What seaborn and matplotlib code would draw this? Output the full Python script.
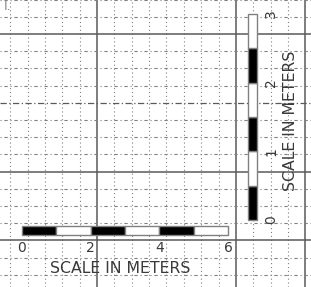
"""Scale bars (horizontal and vertical) drawn over a dotted drafting grid."""

import matplotlib
matplotlib.use("Agg")
import matplotlib.pyplot as plt
import numpy as np
import seaborn as sns

# horizontal scale: 6 segments of 1 m
h_starts = [0, 1, 2, 3, 4, 5]
h_widths = [1, 1, 1, 1, 1, 1]
h_ticks = [0, 2, 4, 6]
h_tick_labels = ["0", "2", "4", "6"]

# vertical scale: 6 segments of 0.5 m
v_starts = [0, 0.5, 1, 1.5, 2, 2.5]
v_heights = [0.5, 0.5, 0.5, 0.5, 0.5, 0.5]
v_ticks = [0, 1, 2, 3]
v_tick_labels = ["0", "1", "2", "3"]

seg_colors = ["black", "white", "black", "white", "black", "white"]
axis_label = "SCALE IN METERS"

# drafting grid, in cell units
grid_cols = list(range(0, 18))
grid_rows = list(range(0, 17))
solid_cols = [5, 13, 17]
solid_rows = [2, 10, 14]
dashdot_rows = [6]

sns.set_theme(style="white")
plt.rcParams["font.family"] = ["DejaVu Sans"]

W, H = 311, 287
fig = plt.figure(figsize=(W / 100, H / 100), dpi=100)
fig.patch.set_facecolor("white")

# background grid axes (cell units)
bg = fig.add_axes([0, 0, 1, 1])
bg.set_xlim(-10.3 / 17.35, (W - 10.3) / 17.35)
bg.set_ylim((H + 0.4) / 17.2, 0.4 / 17.2)
bg.axis("off")
for c in grid_cols:
    if c in solid_cols:
        bg.axvline(c, color="#5a5a5a", lw=1.1)
    else:
        bg.axvline(c, color="#808080", lw=0.8, ls=(0, (1, 2.5)))
for r in grid_rows:
    if r in solid_rows:
        bg.axhline(r, color="#5a5a5a", lw=1.1)
    elif r in dashdot_rows:
        bg.axhline(r, color="#5a5a5a", lw=0.9, ls=(0, (5, 2, 1, 2)))
    else:
        bg.axhline(r, color="#808080", lw=0.8, ls=(0, (1, 2.5, 3, 2.5)))
bg.text(0.012, 1.0, "I.", transform=bg.transAxes, ha="left", va="top",
        fontsize=9, color="#888888")

txt = "#3a3a3a"

# horizontal scale bar
ax_h = fig.add_axes([22 / W, 1 - 235 / H, 206 / W, 9 / H])
ax_h.barh(0.5, h_widths, left=h_starts, height=1, color=seg_colors,
          edgecolor="#808080", linewidth=1.0, align="center", clip_on=False)
ax_h.set_xlim(0, 6)
ax_h.set_ylim(0, 1)
ax_h.set_yticks([])
ax_h.set_xticks(h_ticks)
ax_h.set_xticklabels(h_tick_labels)
ax_h.tick_params(axis="x", length=0, pad=4.5, labelsize=10, labelcolor=txt)
for s in ax_h.spines.values():
    s.set_visible(False)
ax_h.patch.set_alpha(0)
ax_h.set_xlabel(axis_label, fontsize=11.3, color=txt, va="center")
ax_h.xaxis.set_label_coords(0.478, -3.67)

# vertical scale bar
ax_v = fig.add_axes([248 / W, 1 - 220 / H, 9 / W, 206 / H])
ax_v.bar(0.5, v_heights, bottom=v_starts, width=1, color=seg_colors,
         edgecolor="#808080", linewidth=1.0, align="center", clip_on=False)
ax_v.set_ylim(0, 3)
ax_v.set_xlim(0, 1)
ax_v.set_xticks([])
ax_v.yaxis.tick_right()
ax_v.set_yticks(v_ticks)
ax_v.set_yticklabels(v_tick_labels, rotation=90, va="center")
ax_v.tick_params(axis="y", length=0, pad=5, labelsize=10, labelcolor=txt)
for s in ax_v.spines.values():
    s.set_visible(False)
ax_v.patch.set_alpha(0)
ax_v.yaxis.set_label_position("right")
ax_v.set_ylabel(axis_label, fontsize=11.3, color=txt, rotation=90)
ax_v.yaxis.label.set_va("center")
ax_v.yaxis.label.set_ha("center")
ax_v.yaxis.set_label_coords(4.75, 0.48)

fig.savefig("out.png", dpi=100, facecolor="white")
